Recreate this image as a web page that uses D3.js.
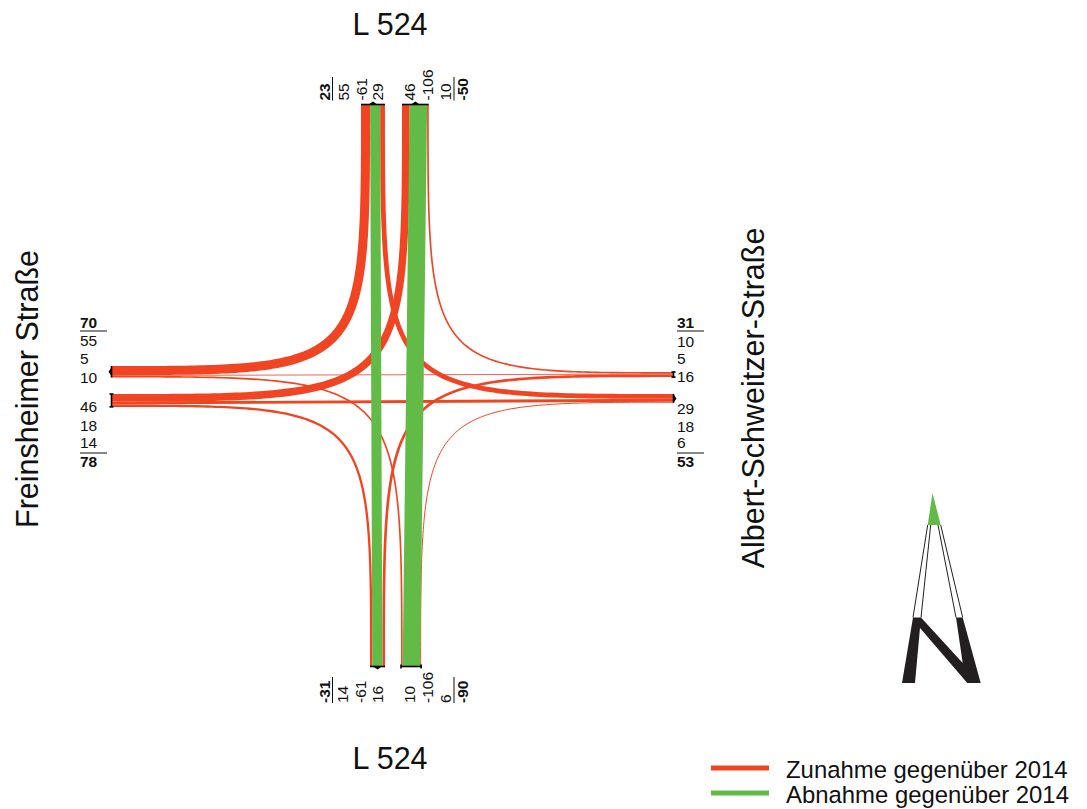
<!DOCTYPE html>
<html><head><meta charset="utf-8">
<script src="https://cdn.jsdelivr.net/npm/d3@7"></script>
<style>html,body{margin:0;padding:0;background:#fff}svg{display:block}text{font-family:"Liberation Sans",Arial,sans-serif;fill:#111}</style>
</head><body><svg id="c" width="1087" height="809"></svg>
<script>
// ---- data ----
const northA = [55, -61, 29];
const northB = [46, -106, 10];
const southA = [14, -61, 16];
const southB = [10, -106, 6];
const westA  = [55, 5, 10];
const westB  = [46, 18, 14];
const eastA  = [10, 5, 16];
const eastB  = [29, 18, 6];
const totals = {northA: 23, northB: -50, southA: -31, southB: -90, westA: 70, westB: 78, eastA: 31, eastB: 53};
const roadTitles = ["L 524", "L 524", "Freinsheimer Straße", "Albert-Schweitzer-Straße"];
const legendLabels = ["Zunahme gegenüber 2014", "Abnahme gegenüber 2014"];
const flows = [
  ["northA",0,"westA",0],["northA",2,"eastB",0],["northB",0,"westB",0],["northB",2,"eastA",0],
  ["southA",0,"westB",2],["southA",2,"eastA",2],["southB",0,"westA",2],["southB",2,"eastB",2],
  ["westA",1,"eastA",1],["westB",1,"eastB",1],["northA",1,"southA",1],["northB",1,"southB",1]
];
// ---- layout ----
const RED = "#f04423", GREEN = "#62bb46";
const svg = d3.select("#c");
const width = d3.scaleLinear().domain([0, 106]).range([0, 17.5]);
const groups = {
  northA:{vals:northA,side:"n",start:361,edge:105,tip:1},
  northB:{vals:northB,side:"n",start:402,edge:105,tip:-1},
  southA:{vals:southA,side:"s",start:370,edge:666,tip:1},
  southB:{vals:southB,side:"s",start:401,edge:666,tip:0},
  westA:{vals:westA,side:"w",start:366,edge:112,tip:1},
  westB:{vals:westB,side:"w",start:394,edge:112,tip:0},
  eastA:{vals:eastA,side:"e",start:372,edge:673,tip:0},
  eastB:{vals:eastB,side:"e",start:394,edge:673,tip:1}
};
function laneCenter(g, i) {
  const G = groups[g];
  let p = G.start;
  for (let k = 0; k < i; k++) p += width(Math.abs(G.vals[k]));
  return p + width(Math.abs(G.vals[i])) / 2;
}
const line = d3.line().x(d => d[0]).y(d => d[1]);
const samples = d3.range(0, 1.0001, 1 / 120);
const EXP = 1 / 0.335;
function flowPath(f) {
  const [ga, ia, gb, ib] = f, A = groups[ga], B = groups[gb];
  const ca = laneCenter(ga, ia), cb = laneCenter(gb, ib);
  const vertical = s => s === "n" || s === "s";
  if (vertical(A.side) === vertical(B.side)) {
    return vertical(A.side) ? line([[ca, A.edge], [cb, B.edge]]) : line([[A.edge, ca], [B.edge, cb]]);
  }
  // A is the north/south arm, B the west/east arm; corner where the lanes meet
  const dy = A.edge - cb, dx = B.edge - ca;
  return line(samples.map(s => [ca + dx * Math.pow(1 - s, EXP), cb + dy * Math.pow(s, EXP)]));
}
const ordered = flows.slice().sort((a, b) => (groups[a[0]].vals[a[1]] < 0) - (groups[b[0]].vals[b[1]] < 0));
svg.append("g").selectAll("path").data(ordered).join("path")
  .attr("d", flowPath).attr("fill", "none")
  .attr("stroke", f => groups[f[0]].vals[f[1]] < 0 ? GREEN : RED)
  .attr("stroke-width", f => width(Math.abs(groups[f[0]].vals[f[1]])));
// direction marks at arm ends
const ends = svg.append("g").attr("fill", "#000").attr("stroke", "#000");
Object.values(groups).forEach(G => {
  const len = d3.sum(G.vals, v => width(Math.abs(v)));
  const vert = G.side === "n" || G.side === "s";
  const out = (G.side === "n" || G.side === "w") ? -1 : 1;
  const P = (along, off) => vert ? [G.start + along, G.edge + out * off] : [G.edge + out * off, G.start + along];
  ends.append("path").attr("d", line([P(0, 0.5), P(len, 0.5)])).attr("fill", "none").attr("stroke-width", 1.6);
  if (G.tip) ends.append("path").attr("stroke", "none")
    .attr("d", line([P(len / 2 - 5, 0), P(len / 2, 3.5), P(len / 2 + 5, 0)]) + "Z");
  else ends.selectAll(null).data([0, len]).join("path").attr("stroke-width", 1.6)
    .attr("d", a => line([P(a, -1.5), P(a, 2.5)]));
});
// value labels
const FS = 15.5;
const labels = svg.append("g").attr("font-size", FS);
function hLabels(x, ys, vals, boldIdx, ruleY, ruleX) {
  vals.forEach((v, i) => labels.append("text").attr("x", x).attr("y", ys[i]).text(v)
    .attr("font-weight", i === boldIdx ? "bold" : null));
  labels.append("line").attr("x1", ruleX[0]).attr("x2", ruleX[1]).attr("y1", ruleY).attr("y2", ruleY).attr("stroke", "#111").attr("stroke-width", 1);
}
hLabels(80, [328, 346, 364, 382.5], [totals.westA, ...westA], 0, 331, [80, 107]);
hLabels(80, [411.5, 430.5, 448, 467], [...westB, totals.westB], 3, 453, [80, 107]);
hLabels(677, [328, 346.5, 364, 382], [totals.eastA, ...eastA], 0, 331, [677, 704]);
hLabels(677, [414, 431.5, 448, 467], [...eastB, totals.eastB], 3, 453, [677, 704]);
function vLabels(y, xs, vals, boldIdx, ruleX, ruleY) {
  vals.forEach((v, i) => labels.append("text").attr("transform", `translate(${xs[i]},${y}) rotate(-90)`).text(v)
    .attr("font-weight", i === boldIdx ? "bold" : null));
  labels.append("line").attr("x1", ruleX).attr("x2", ruleX).attr("y1", ruleY[0]).attr("y2", ruleY[1]).attr("stroke", "#111").attr("stroke-width", 1);
}
vLabels(100.5, [330, 349, 366.5, 383], [totals.northA, ...northA], 0, 332.5, [77, 100.5]);
vLabels(100.5, [415, 433, 450.5, 468], [...northB, totals.northB], 3, 454, [77, 100.5]);
vLabels(703, [330, 348, 365.5, 383], [totals.southA, ...southA], 0, 332.5, [677, 703]);
vLabels(703, [415, 433, 450.5, 468], [...southB, totals.southB], 3, 454, [677, 703]);
// road names
const TS = 30.5;
svg.append("text").attr("x", 390).attr("y", 35).attr("text-anchor", "middle").attr("font-size", TS).text(roadTitles[0]);
svg.append("text").attr("x", 390).attr("y", 769).attr("text-anchor", "middle").attr("font-size", TS).text(roadTitles[1]);
svg.append("text").attr("transform", "translate(38,389) rotate(-90)").attr("text-anchor", "middle").attr("font-size", TS).text(roadTitles[2]);
svg.append("text").attr("transform", "translate(764,398) rotate(-90)").attr("text-anchor", "middle").attr("font-size", TS).text(roadTitles[3]);
// legend
const legendY = d3.scalePoint().domain(legendLabels).range([768, 793]);
const leg = svg.append("g").selectAll("g").data(legendLabels).join("g");
leg.append("line").attr("x1", 711).attr("x2", 769).attr("y1", d => legendY(d)).attr("y2", d => legendY(d))
  .attr("stroke", (d, i) => i ? GREEN : RED).attr("stroke-width", 5);
leg.append("text").attr("x", 786).attr("y", d => legendY(d) + 9.5).attr("font-size", 23.9).text(d => d);
// north arrow
const N = svg.append("g");
[[[927.7,525],[913,617.5]],[[930.7,525],[921,617.5]],[[940.7,525],[962.7,617.5]],[[938,525],[956,617.5]]]
  .forEach(l => N.append("path").attr("d", line(l)).attr("stroke", "#231f20").attr("fill", "none").attr("stroke-width", 1));
N.append("path").attr("fill", GREEN).attr("d", line([[932.5,493],[927.7,525],[940.7,525]]) + "Z");
N.append("path").attr("fill", "#231f20").attr("d", line([[902,683],[913,617.5],[921,617.5],[962.7,663],[956,617.5],[962.7,617.5],[980.7,683],[967.3,683],[920,628],[915,683]]) + "Z");
</script></body></html>
